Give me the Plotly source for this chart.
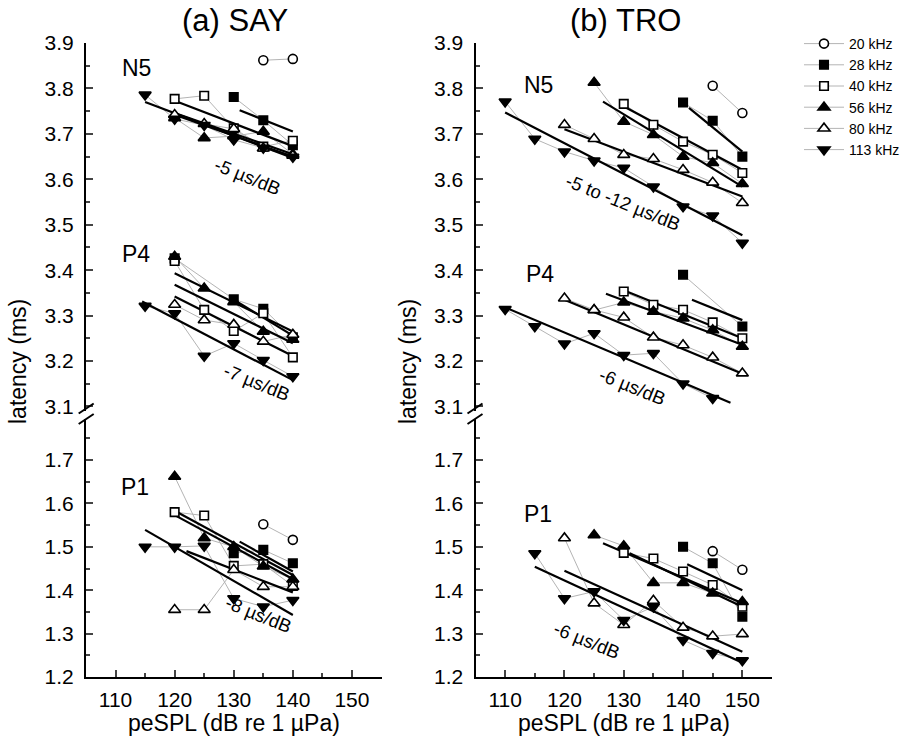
import plotly.graph_objects as go

# ---------------- data ----------------
FREQS = ["20 kHz", "28 kHz", "40 kHz", "56 kHz", "80 kHz", "113 kHz"]

# (a) SAY : stimulus levels (dB)
SAY_LEVELS = [115, 120, 125, 130, 135, 140]
SAY_N5_20 = [None, None, None, None, 3.862, 3.865]
SAY_N5_28 = [None, None, None, 3.781, 3.730, 3.675]
SAY_N5_40 = [None, 3.777, 3.784, 3.712, 3.672, 3.685]
SAY_N5_56 = [None, 3.735, 3.691, 3.695, 3.705, 3.655]
SAY_N5_80 = [None, 3.742, 3.722, 3.711, 3.668, 3.652]
SAY_N5_113 = [3.786, 3.733, 3.719, 3.687, 3.669, 3.649]

SAY_P4_20 = [None, None, None, None, None, None]
SAY_P4_28 = [None, 3.426, None, 3.336, 3.315, 3.252]
SAY_P4_40 = [None, 3.420, 3.3125, 3.266, 3.305, 3.208]
SAY_P4_56 = [None, 3.430, 3.360, 3.330, 3.265, 3.247]
SAY_P4_80 = [None, 3.324, 3.290, 3.280, 3.243, 3.258]
SAY_P4_113 = [3.321, 3.305, 3.211, 3.239, 3.202, 3.166]

SAY_P1_20 = [None, None, None, None, 1.552, 1.516]
SAY_P1_28 = [None, None, None, 1.485, 1.493, 1.462]
SAY_P1_40 = [None, 1.580, 1.572, 1.456, 1.460, 1.410]
SAY_P1_56 = [None, 1.662, 1.520, 1.500, 1.455, 1.425]
SAY_P1_80 = [None, 1.355, 1.355, 1.447, 1.408, 1.408]
SAY_P1_113 = [1.500, 1.500, 1.502, 1.381, 1.362, 1.377]

# fitted lines (a): per frequency 28,40,56,80,113 -> [x_start, x_end], [y_start, y_end]
SAY_N5_FIT_X = [[131, 140], [120, 140], [120, 140], [120, 140], [115, 140]]
SAY_N5_FIT_Y = [[3.752, 3.705], [3.773, 3.673], [3.742, 3.650], [3.746, 3.655], [3.770, 3.647]]
SAY_P4_FIT_X = [[130, 140], [120, 140], [120, 140], [120, 140], [114.5, 140]]
SAY_P4_FIT_Y = [[3.335, 3.256], [3.368, 3.239], [3.393, 3.265], [3.342, 3.211], [3.331, 3.158]]
SAY_P1_FIT_X = [[131, 140], [120, 140], [120, 140], [122, 140], [115, 140]]
SAY_P1_FIT_Y = [[1.512, 1.443], [1.583, 1.435], [1.573, 1.426], [1.490, 1.395], [1.539, 1.343]]

# (b) TRO
TRO_LEVELS = [110, 115, 120, 125, 130, 135, 140, 145, 150]
TRO_N5_20 = [None, None, None, None, None, None, None, 3.806, 3.746]
TRO_N5_28 = [None, None, None, None, None, None, 3.769, 3.729, 3.650]
TRO_N5_40 = [None, None, None, None, 3.766, 3.720, 3.683, 3.654, 3.614]
TRO_N5_56 = [None, None, None, 3.813, 3.727, 3.698, 3.650, 3.636, 3.590]
TRO_N5_80 = [None, None, 3.720, 3.689, 3.654, 3.645, 3.621, 3.593, 3.548]
TRO_N5_113 = [3.771, 3.689, 3.661, 3.641, 3.625, 3.584, 3.540, 3.520, 3.460]

TRO_P4_20 = [None, None, None, None, None, None, None, None, None]
TRO_P4_28 = [None, None, None, None, None, None, 3.390, None, 3.276]
TRO_P4_40 = [None, None, None, None, 3.353, 3.324, 3.313, 3.285, 3.250]
TRO_P4_56 = [None, None, None, 3.312, 3.329, 3.309, 3.294, 3.268, 3.232]
TRO_P4_80 = [None, None, 3.338, 3.3125, 3.296, 3.252, 3.235, 3.208, 3.173]
TRO_P4_113 = [3.314, 3.276, 3.238, 3.261, 3.213, 3.217, 3.150, 3.118, None]

TRO_P1_20 = [None, None, None, None, None, None, None, 1.490, 1.447]
TRO_P1_28 = [None, None, None, None, None, None, 1.500, 1.462, 1.339]
TRO_P1_40 = [None, None, None, None, 1.486, 1.473, 1.443, 1.412, 1.362]
TRO_P1_56 = [None, None, None, 1.527, 1.502, 1.417, 1.417, 1.393, 1.373]
TRO_P1_80 = [None, None, 1.520, 1.370, 1.320, 1.376, 1.314, 1.294, 1.299]
TRO_P1_113 = [None, 1.485, 1.381, 1.397, 1.331, 1.362, 1.285, 1.255, 1.238]

TRO_N5_FIT_X = [[141, 150], [130.5, 150], [126.5, 150], [120, 150], [110, 150]]
TRO_N5_FIT_Y = [[3.757, 3.661], [3.757, 3.621], [3.771, 3.584], [3.710, 3.562], [3.747, 3.477]]
TRO_P4_FIT_X = [[141.5, 150], [130.5, 150], [127, 150], [120, 150], [110, 148]]
TRO_P4_FIT_Y = [[3.335, 3.290], [3.353, 3.250], [3.348, 3.236], [3.335, 3.172], [3.318, 3.108]]
TRO_P1_FIT_X = [[140.7, 150], [131, 150], [126.5, 150], [120, 150], [115, 150]]
TRO_P1_FIT_Y = [[1.460, 1.400], [1.485, 1.362], [1.508, 1.370], [1.445, 1.258], [1.454, 1.233]]

# ---------------- style / layout ----------------
FONT = "Liberation Sans, Arial, sans-serif"
W_FIG, H_FIG = 906, 746
ML, MR, MT, MB = 86, 134, 43, 69
PW = W_FIG - ML - MR
PH = H_FIG - MT - MB

def pxx(px):
    return (px - ML) / PW

def pxy(py):
    return (H_FIG - MB - py) / PH

SYMS = ["circle", "square", "square", "triangle-up", "triangle-up", "triangle-down"]
FILLS = ["white", "black", "white", "black", "white", "black"]
SIZES = [9, 8.5, 8.5, 10.5, 10.5, 10.5]
GRAY = "#b4b4b4"

fig = go.Figure()

def add_component(levels, series, fit_x, fit_y, xa, ya):
    # gray connecting lines
    for s in series:
        fig.add_trace(go.Scatter(x=levels, y=s, mode="lines", connectgaps=True,
                                 line=dict(color=GRAY, width=1), xaxis=xa, yaxis=ya,
                                 showlegend=False, hoverinfo="skip"))
    # fitted black lines
    for fx, fy in zip(fit_x, fit_y):
        fig.add_trace(go.Scatter(x=fx, y=fy, mode="lines", line=dict(color="black", width=2.2),
                                 xaxis=xa, yaxis=ya, showlegend=False, hoverinfo="skip"))
    # markers
    for i, s in enumerate(series):
        fig.add_trace(go.Scatter(x=levels, y=s, mode="markers",
                                 marker=dict(symbol=SYMS[i], size=SIZES[i], color=FILLS[i],
                                             line=dict(color="black", width=1.6)),
                                 xaxis=xa, yaxis=ya, showlegend=False, name=FREQS[i]))

add_component(SAY_LEVELS, [SAY_N5_20, SAY_N5_28, SAY_N5_40, SAY_N5_56, SAY_N5_80, SAY_N5_113],
              SAY_N5_FIT_X, SAY_N5_FIT_Y, "x", "y")
add_component(SAY_LEVELS, [SAY_P4_20, SAY_P4_28, SAY_P4_40, SAY_P4_56, SAY_P4_80, SAY_P4_113],
              SAY_P4_FIT_X, SAY_P4_FIT_Y, "x", "y")
add_component(SAY_LEVELS, [SAY_P1_20, SAY_P1_28, SAY_P1_40, SAY_P1_56, SAY_P1_80, SAY_P1_113],
              SAY_P1_FIT_X, SAY_P1_FIT_Y, "x", "y2")
add_component(TRO_LEVELS, [TRO_N5_20, TRO_N5_28, TRO_N5_40, TRO_N5_56, TRO_N5_80, TRO_N5_113],
              TRO_N5_FIT_X, TRO_N5_FIT_Y, "x2", "y3")
add_component(TRO_LEVELS, [TRO_P4_20, TRO_P4_28, TRO_P4_40, TRO_P4_56, TRO_P4_80, TRO_P4_113],
              TRO_P4_FIT_X, TRO_P4_FIT_Y, "x2", "y3")
add_component(TRO_LEVELS, [TRO_P1_20, TRO_P1_28, TRO_P1_40, TRO_P1_56, TRO_P1_80, TRO_P1_113],
              TRO_P1_FIT_X, TRO_P1_FIT_Y, "x2", "y4")

# legend entries
for i, f in enumerate(FREQS):
    fig.add_trace(go.Scatter(x=[None], y=[None], mode="lines+markers", name=f,
                             line=dict(color=GRAY, width=1),
                             marker=dict(symbol=SYMS[i], size=SIZES[i], color=FILLS[i],
                                         line=dict(color="black", width=1.6)),
                             xaxis="x", yaxis="y", showlegend=True))

# axes
UP_DOM = [pxy(411), 1.0]
LO_DOM = [0.0, pxy(418.8)]
XA_DOM = [0.0, pxx(381.5)]
XB_DOM = [pxx(475.5), 1.0]

def xax(dom, anchor):
    return dict(domain=dom, anchor=anchor, range=[105, 155], tickmode="array",
                tickvals=[110, 120, 130, 140, 150], ticks="inside", ticklen=7, tickwidth=2,
                minor=dict(ticks="inside", ticklen=4, tickwidth=2, tickvals=[105, 115, 125, 135, 145, 155]),
                showline=True, linewidth=2, linecolor="black", showgrid=False, zeroline=False,
                tickfont=dict(family=FONT, size=21, color="black"), ticklabelstandoff=3)

def yax(dom, anchor, rng, vals):
    return dict(domain=dom, anchor=anchor, range=rng, tickmode="array", tickvals=vals,
                ticktext=["%.1f" % v for v in vals],
                ticks="inside", ticklen=7, tickwidth=2,
                minor=dict(ticks="inside", ticklen=4, tickwidth=2, dtick=0.05, tick0=0.05),
                showline=True, linewidth=2, linecolor="black", showgrid=False, zeroline=False,
                tickfont=dict(family=FONT, size=21, color="black"), ticklabelstandoff=6)

UP_TICKS = [3.1, 3.2, 3.3, 3.4, 3.5, 3.6, 3.7, 3.8, 3.9]
LO_TICKS = [1.2, 1.3, 1.4, 1.5, 1.6, 1.7]

fig.update_layout(
    width=W_FIG, height=H_FIG,
    margin=dict(l=ML, r=MR, t=MT, b=MB, autoexpand=False),
    paper_bgcolor="white", plot_bgcolor="white",
    font=dict(family=FONT, color="black"),
    xaxis=xax(XA_DOM, "y2"),
    xaxis2=xax(XB_DOM, "y4"),
    yaxis=yax(UP_DOM, "x", [3.09, 3.9], UP_TICKS),
    yaxis2=yax(LO_DOM, "x", [1.2, 1.795], LO_TICKS),
    yaxis3=yax(UP_DOM, "x2", [3.09, 3.9], UP_TICKS),
    yaxis4=yax(LO_DOM, "x2", [1.2, 1.795], LO_TICKS),
    legend=dict(x=pxx(799), y=pxy(28), xanchor="left", yanchor="top",
                font=dict(family=FONT, size=14, color="black"),
                bgcolor="rgba(0,0,0,0)", borderwidth=0, tracegroupgap=0, itemwidth=40),
    showlegend=True,
)

ann = []
def add_text(txt, x, y, xref, yref, size, angle=0):
    ann.append(dict(text=txt, x=x, y=y, xref=xref, yref=yref, showarrow=False,
                    font=dict(family=FONT, size=size, color="black"), textangle=angle,
                    xanchor="center", yanchor="middle"))

# titles
add_text("(a) SAY", pxx(235), pxy(21), "paper", "paper", 31)
add_text("(b) TRO", pxx(625), pxy(21), "paper", "paper", 31)
# axis titles
add_text("latency (ms)", pxx(18), pxy(362), "paper", "paper", 23, -90)
add_text("latency (ms)", pxx(408), pxy(362), "paper", "paper", 23, -90)
add_text("peSPL (dB re 1 µPa)", pxx(234), pxy(723), "paper", "paper", 23)
add_text("peSPL (dB re 1 µPa)", pxx(624), pxy(723), "paper", "paper", 23)
# component labels
add_text("N5", 113.6, 3.845, "x", "y", 23)
add_text("P4", 113.4, 3.436, "x", "y", 23)
add_text("P1", 113.3, 1.638, "x", "y2", 23)
add_text("N5", 115.7, 3.808, "x2", "y3", 23)
add_text("P4", 115.9, 3.392, "x2", "y3", 23)
add_text("P1", 115.6, 1.575, "x2", "y4", 23)
# slope labels
add_text("-5 µs/dB", 132.3, 3.606, "x", "y", 18.5, 22)
add_text("-7 µs/dB", 133.9, 3.152, "x", "y", 18.5, 22)
add_text("-8 µs/dB", 134.2, 1.345, "x", "y2", 18.5, 22)
add_text("-5 to -12 µs/dB", 129.9, 3.548, "x2", "y3", 18.5, 22)
add_text("-6 µs/dB", 131.4, 3.145, "x2", "y3", 18.5, 22)
add_text("-6 µs/dB", 123.8, 1.283, "x2", "y4", 18.5, 22)

fig.update_layout(annotations=ann)

# axis break marks
shapes = []
for ax_px in (86.7, 475.5):
    for (y0, y1) in ((413.5, 403.5), (424, 414)):
        shapes.append(dict(type="line", xref="paper", yref="paper",
                           x0=pxx(ax_px - 8), y0=pxy(y0), x1=pxx(ax_px + 7), y1=pxy(y1),
                           line=dict(color="black", width=2)))
fig.update_layout(shapes=shapes)

fig.write_html("out.html")
